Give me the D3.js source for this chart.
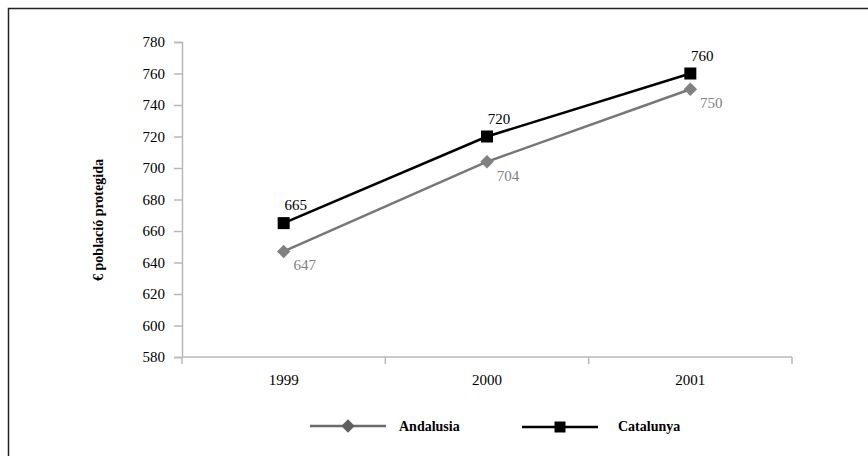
<!DOCTYPE html>
<html><head><meta charset="utf-8">
<script src="https://cdn.jsdelivr.net/npm/d3@7"></script>
<style>body{margin:0;background:#fff}svg{display:block}
svg text{font-family:"Liberation Serif","Times New Roman","DejaVu Serif",serif}</style>
</head><body>
<svg id="c" width="868" height="456"></svg>
<script>
const years = ["1999", "2000", "2001"];
const andalusia = [647, 704, 750];
const catalunya = [665, 720, 760];
const yTicks = [580, 600, 620, 640, 660, 680, 700, 720, 740, 760, 780];
const seriesNames = ["Andalusia", "Catalunya"];

const svg = d3.select("#c");
const font = "Liberation Serif";
// outer frame
svg.append("rect").attr("x", 8.5).attr("y", 8.5).attr("width", 900).attr("height", 500)
  .attr("fill", "none").attr("stroke", "#222").attr("stroke-width", 1.5);

const L = 182, R = 792, T = 42, B = 357;
const x = d3.scaleBand().domain(years).range([L, R]);
const y = d3.scaleLinear().domain([580, 780]).range([B, T]);
const axisColor = "#b8b8b8";

// y axis
const ya = svg.append("g").attr("transform", `translate(${L},0)`)
  .call(d3.axisLeft(y).tickValues(yTicks).tickSize(8).tickPadding(9).tickFormat(d3.format("d")));
ya.attr("font-family", null);
ya.select(".domain").attr("stroke", axisColor).attr("stroke-width", 1.5);
ya.selectAll(".tick line").attr("stroke", axisColor).attr("stroke-width", 1.5);
ya.selectAll("text").attr("font-family", font).attr("font-size", 15).attr("fill", "#000");

// x axis
const xa = svg.append("g").attr("transform", `translate(0,${B})`);
xa.append("line").attr("x1", L).attr("x2", R).attr("stroke", axisColor).attr("stroke-width", 1.5);
const bounds = years.map(d => x(d)).concat([x(years[years.length-1]) + x.bandwidth()]);
xa.selectAll("line.tk").data(bounds).enter().append("line").attr("class", "tk")
  .attr("x1", d => d).attr("x2", d => d).attr("y1", 0).attr("y2", 7)
  .attr("stroke", axisColor).attr("stroke-width", 1.5);
xa.selectAll("text").data(years).enter().append("text")
  .attr("x", d => x(d) + x.bandwidth()/2).attr("y", 28).attr("text-anchor", "middle")
  .attr("font-family", font).attr("font-size", 15).text(d => d);

// y title
svg.append("text").attr("transform", `translate(103,220) rotate(-90)`)
  .attr("text-anchor", "middle").attr("font-family", font).attr("font-size", 14)
  .attr("font-weight", "bold").text("€ població protegida");

const cx = d => x(d) + x.bandwidth()/2;
const line = d3.line().x((d, i) => cx(years[i])).y(d => y(d));

const grayLine = "#777777", grayMark = "#808080";
// Andalusia
svg.append("path").datum(andalusia).attr("d", line).attr("fill", "none")
  .attr("stroke", grayLine).attr("stroke-width", 2.5);
svg.selectAll("path.dia").data(andalusia).enter().append("path").attr("class", "dia")
  .attr("d", d3.symbol().type(d3.symbolSquare).size(90))
  .attr("transform", (d, i) => `translate(${cx(years[i])},${y(d)}) rotate(45)`)
  .attr("fill", grayMark);
svg.selectAll("text.la").data(andalusia).enter().append("text").attr("class", "la")
  .attr("x", (d, i) => cx(years[i]) + 21).attr("y", d => y(d) + 19)
  .attr("text-anchor", "middle").attr("font-family", font).attr("font-size", 15)
  .attr("fill", "#808080").text(d => d);

// Catalunya
svg.append("path").datum(catalunya).attr("d", line).attr("fill", "none")
  .attr("stroke", "#000").attr("stroke-width", 2.5);
svg.selectAll("rect.sq").data(catalunya).enter().append("rect").attr("class", "sq")
  .attr("x", (d, i) => cx(years[i]) - 6).attr("y", d => y(d) - 6)
  .attr("width", 12).attr("height", 12).attr("fill", "#000");
svg.selectAll("text.lc").data(catalunya).enter().append("text").attr("class", "lc")
  .attr("x", (d, i) => cx(years[i]) + 12).attr("y", d => y(d) - 13)
  .attr("text-anchor", "middle").attr("font-family", font).attr("font-size", 15)
  .attr("fill", "#000").text(d => d);

// legend
const lg = svg.append("g");
const ly = 426;
// Andalusia
lg.append("line").attr("x1", 310).attr("x2", 386).attr("y1", ly).attr("y2", ly)
  .attr("stroke", "#6a6a6a").attr("stroke-width", 2.5);
lg.append("path").attr("d", d3.symbol().type(d3.symbolSquare).size(90))
  .attr("transform", `translate(348,${ly}) rotate(45)`).attr("fill", "#5f5f5f");
lg.append("text").attr("x", 399).attr("y", ly + 5).attr("font-family", font)
  .attr("font-size", 14).attr("font-weight", "bold").text(seriesNames[0]);
// Catalunya
lg.append("line").attr("x1", 522).attr("x2", 598).attr("y1", ly + 1).attr("y2", ly + 1)
  .attr("stroke", "#000").attr("stroke-width", 2.5);
lg.append("rect").attr("x", 554.5).attr("y", ly - 4.5).attr("width", 11).attr("height", 11).attr("fill", "#000");
lg.append("text").attr("x", 618).attr("y", ly + 5).attr("font-family", font)
  .attr("font-size", 14).attr("font-weight", "bold").text(seriesNames[1]);
</script>
</body></html>
